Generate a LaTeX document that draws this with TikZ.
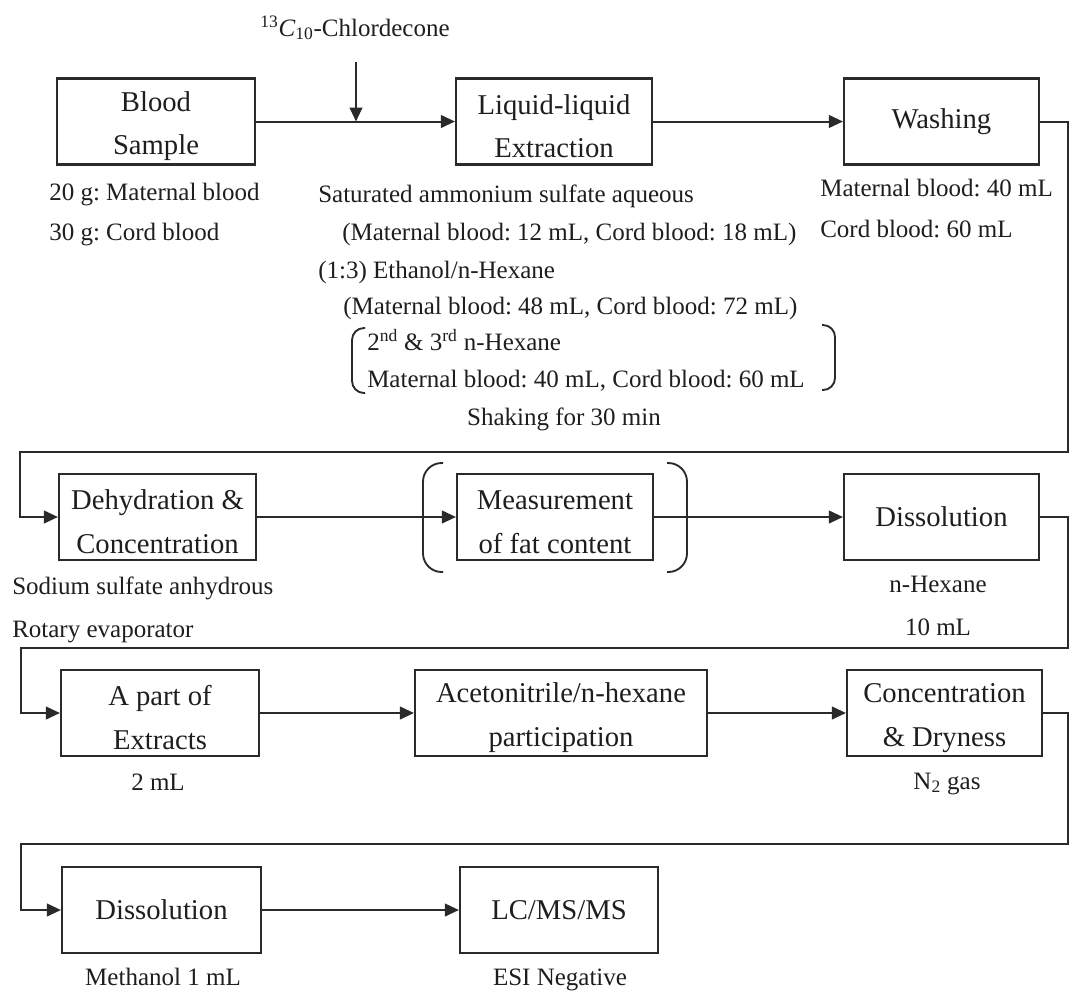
\documentclass[tikz,border=0pt]{standalone}
\usepackage{fontspec}
\setmainfont{Liberation Serif}
\usetikzlibrary{arrows.meta}
\frenchspacing
\newcommand\myboxfont{\fontsize{21.5}{32.5}\selectfont}
\newcommand\mylblfont{\fontsize{18.75}{22}\selectfont}
\newcommand\mytopstrut{\rule{0pt}{22pt}}
\definecolor{ink}{HTML}{1E1E1E}
\definecolor{wire}{HTML}{2A2A2A}
\begin{document}
\begin{tikzpicture}[x=0.75pt,y=-0.75pt,
  box/.style={draw=wire, line width=1.6pt, minimum height=64.5pt, align=center,
              font=\myboxfont, text=ink, inner sep=0pt},
  lbl/.style={font=\mylblfont, text=ink, inner sep=0pt},
  flow/.style={draw=wire, line width=1.5pt, -{Triangle[length=10.5pt,width=9.5pt]}},
  brk/.style={draw=wire, line width=1.4pt}]
\useasboundingbox (0,0) rectangle (1070,1004);

% ---- boxes ----
\node[box, minimum width=148.5pt]  (blood) at (156,121.5)   {\mytopstrut Blood\\Sample};
\node[box, minimum width=147pt]    (lle)   at (554,121.5)   {\mytopstrut Liquid-liquid\\Extraction};
\node[box, minimum width=146.25pt] (wash)  at (941.5,121.5) {Washing};

\node[box, minimum width=147.75pt] (dehyd) at (157.5,517)   {\mytopstrut Dehydration \&\\Concentration};
\node[box, minimum width=147pt]    (meas)  at (555,517)     {\mytopstrut Measurement\\of fat content};
\node[box, minimum width=146.25pt] (dissa) at (941.5,517)   {Dissolution};

\node[box, minimum width=148.5pt]  (apart) at (160,713)     {\mytopstrut A part of\\Extracts};
\node[box, minimum width=219pt]    (acet)  at (561,713)     {\mytopstrut Acetonitrile/n-hexane\\participation};
\node[box, minimum width=146.25pt] (conc)  at (944.5,713)   {\mytopstrut Concentration\\\& Dryness};

\node[box, minimum width=149.25pt] (dissb) at (161.5,910)   {Dissolution};
\node[box, minimum width=148.5pt]  (lcms)  at (559,910)     {LC/MS/MS};

% ---- coordinates for connectors ----
\coordinate (ctop) at (356,62);
\coordinate (cj)   at (356,121.5);
\coordinate (r1R) at (1068,452);
\coordinate (r1L) at (20,452);
\coordinate (r2R) at (1068,648);
\coordinate (r2L) at (21,648);
\coordinate (r3R) at (1068,844);
\coordinate (r3L) at (21,844);

% ---- connectors ----
\draw[flow] (blood.east) -- (lle.west);
\draw[flow] (ctop) -- (cj);
\draw[flow] (lle.east) -- (wash.west);
\draw[flow] (wash.east) -| (r1R) -- (r1L) |- (dehyd.west);
\draw[flow] (dehyd.east) -- (meas.west);
\draw[flow] (meas.east) -- (dissa.west);
\draw[flow] (dissa.east) -| (r2R) -- (r2L) |- (apart.west);
\draw[flow] (apart.east) -- (acet.west);
\draw[flow] (acet.east) -- (conc.west);
\draw[flow] (conc.east) -| (r3R) -- (r3L) |- (dissb.west);
\draw[flow] (dissb.east) -- (lcms.west);

% ---- brackets ----
\draw[brk, rounded corners=9pt] (365,328) -- (352,328) -- (352,393) -- (365,393);
\draw[brk, rounded corners=9pt] (822,325) -- (835,325) -- (835,390) -- (822,390);
\draw[brk, rounded corners=14pt] (443,463) -- (423,463) -- (423,572) -- (443,572);
\draw[brk, rounded corners=14pt] (667,463) -- (687,463) -- (687,572) -- (667,572);

% ---- labels ----
\node[lbl, anchor=base] (chl) at (355,36) {\textsuperscript{13}\textit{C}\textsubscript{10}-Chlordecone};
\node[lbl, anchor=base west] (la) at (49,200) {20 g: Maternal blood};
\node[lbl, anchor=base west] (lb) at (49,240) {30 g: Cord blood};
\node[lbl, anchor=base west] (lc) at (318,202) {Saturated ammonium sulfate aqueous};
\node[lbl, anchor=base west] (ld) at (342,240) {(Maternal blood: 12 mL, Cord blood: 18 mL)};
\node[lbl, anchor=base west] (le) at (318,278) {(1:3) Ethanol/n-Hexane};
\node[lbl, anchor=base west] (lf) at (343,314) {(Maternal blood: 48 mL, Cord blood: 72 mL)};
\node[lbl, anchor=base west] (lg) at (367,350) {2\textsuperscript{nd} \& 3\textsuperscript{rd} n-Hexane};
\node[lbl, anchor=base west] (lh) at (367,387) {Maternal blood: 40 mL, Cord blood: 60 mL};
\node[lbl, anchor=base] (li) at (564,425) {Shaking for 30 min};
\node[lbl, anchor=base west] (lj) at (820,196) {Maternal blood: 40 mL};
\node[lbl, anchor=base west] (lk) at (820,237) {Cord blood: 60 mL};
\node[lbl, anchor=base west] (ll) at (12,594) {Sodium sulfate anhydrous};
\node[lbl, anchor=base west] (lm) at (12,637) {Rotary evaporator};
\node[lbl, anchor=base] (ln) at (938,592) {n-Hexane};
\node[lbl, anchor=base] (lo) at (938,635) {10 mL};
\node[lbl, anchor=base] (lp) at (158,790) {2 mL};
\node[lbl, anchor=base] (lq) at (947,789) {N\textsubscript{2} gas};
\node[lbl, anchor=base] (lr) at (163,985) {Methanol 1 mL};
\node[lbl, anchor=base] (ls) at (560,985) {ESI Negative};
\end{tikzpicture}
\end{document}
